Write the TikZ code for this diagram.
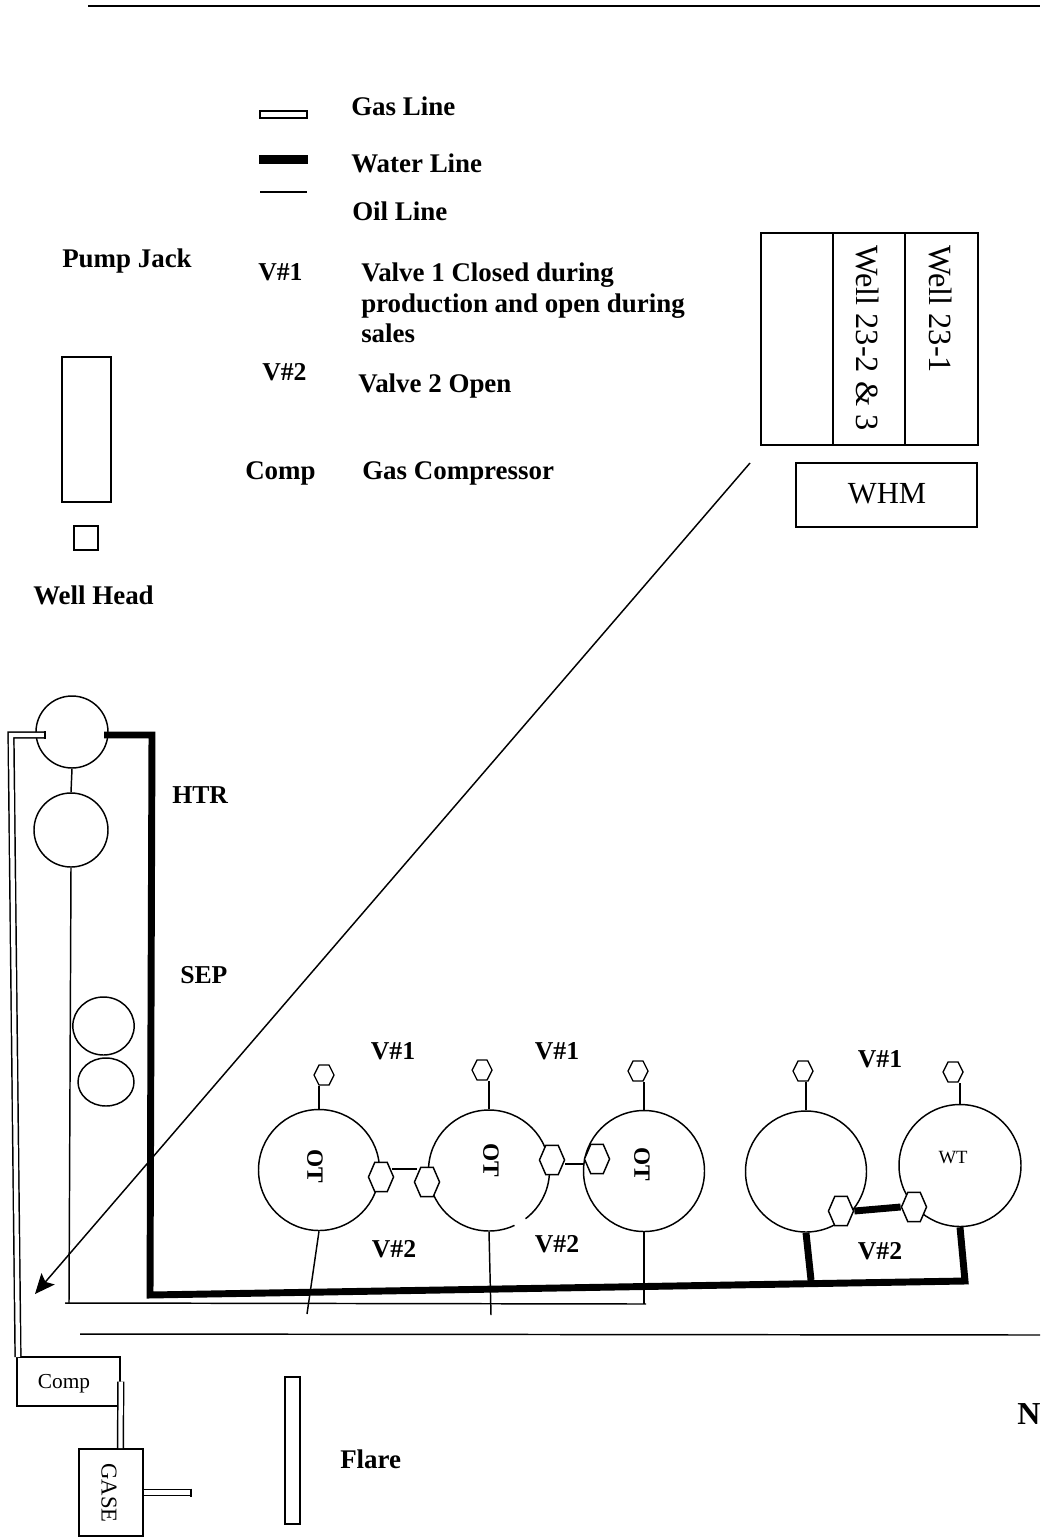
\documentclass[tikz,border=0pt]{standalone}
\usepackage{fontspec}
\setmainfont{Liberation Serif}
\usetikzlibrary{shapes.geometric,arrows.meta,calc}
\tikzset{
  pipe/.style={line width=1.1pt,black},
  oil/.style={line width=1.1pt,black},
  water/.style={line width=5.2pt,black,line cap=butt,line join=miter},
  gas/.style={line width=1.1pt,draw=black,double=white,double distance=3.2pt,line join=miter},
  lab/.style={font=\bfseries\fontsize{20.2}{23}\selectfont,inner sep=0pt,anchor=west,align=left},
  clab/.style={font=\bfseries\fontsize{19.3}{23}\selectfont,inner sep=0pt},
  box/.style={draw,line width=1.1pt,rectangle,inner sep=0pt,fill=white},
  tank/.style={draw,line width=1.1pt,circle,inner sep=0pt,fill=white,minimum size=#1*0.75pt},
  ell/.style={draw,line width=1.1pt,ellipse,inner sep=0pt},
  vsmall/.style={draw,line width=1pt,fill=white,regular polygon,regular polygon sides=6,inner sep=0pt,minimum size=15pt,yscale=1.155,transform shape},
  vbig/.style={draw,line width=1.1pt,fill=white,regular polygon,regular polygon sides=6,inner sep=0pt,minimum size=18.8pt,yscale=1.34,transform shape},
  reg/.style={inner sep=0pt,font=\fontsize{23}{27}\selectfont},
  wellt/.style={inner sep=0pt,rotate=-90,anchor=west,font=\fontsize{24.3}{27}\selectfont},
  small/.style={inner sep=0pt,font=\fontsize{16}{19}\selectfont},
  ot/.style={inner sep=0pt,rotate=-90,font=\bfseries\fontsize{17.5}{20}\selectfont},
}
\begin{document}
\begin{tikzpicture}[x=0.75pt,y=-0.75pt]
\useasboundingbox (0,0) rectangle (1040,1538);
% rules
\coordinate (topL) at (88,6); \coordinate (topR) at (1040,6);
\coordinate (midL) at (80,1334); \coordinate (midR) at (1040,1335);
\draw[oil] (topL) -- (topR);
\draw[oil] (midL) -- (midR);
% legend
\node[box,minimum width=35pt,minimum height=5pt] (legGas) at (283.5,114.5) {};
\node[box,fill=black,minimum width=35pt,minimum height=5pt] (legWater) at (283.5,159.5) {};
\coordinate (legOilL) at (260,192); \coordinate (legOilR) at (307,192);
\draw[oil] (legOilL) -- (legOilR);
\node[lab] (tGas) at (351,106) {Gas Line};
\node[lab] (tWater) at (351,163) {Water Line};
\node[lab] (tOil) at (352,211) {Oil Line};
\node[lab] (tPump) at (62,261) {Pump Jack};
\node[clab,anchor=west] (tV1) at (258,272) {V\#1};
\node[lab] (tValve1) at (361,303) {Valve 1 Closed during\\production and open during\\sales};
\node[clab,anchor=west] (tV2) at (262,372) {V\#2};
\node[lab] (tValve2) at (358,386) {Valve 2 Open};
\node[lab] (tComp) at (245,473) {Comp};
\node[lab] (tComp2) at (362,473) {Gas Compressor};
% pump jack / well head
\node[box,minimum width=36.75pt,minimum height=108.75pt] (pump) at (86.5,429.5) {};
\node[box,minimum width=18pt,minimum height=18pt] (head) at (86,538) {};
\node[lab] (tHead) at (33,595) {Well Head};
% well table
\node[box,minimum width=162.75pt,minimum height=159pt] (wells) at (869.5,339) {};
\node[box,minimum width=54pt,minimum height=159pt] (wellMid) at (869,339) {};
\node[wellt] (w2) at (867,245) {Well 23-2 \& 3};
\node[wellt] (w1) at (940,245) {Well 23-1};
\node[box,minimum width=135.75pt,minimum height=48pt] (whm) at (886.5,495) {};
\node[reg] (twhm) at (887,494) {WHM};
% left stack
\node[tank=72] (htr) at (72,732) {};
\node[tank=74] (sep) at (71,830) {};
\draw[pipe] (htr.south) -- (sep.north);
\node[clab,anchor=west] (tHtr) at (172,795) {HTR};
\node[clab,anchor=west] (tSep) at (180,975) {SEP};
\node[ell,minimum width=46pt,minimum height=43.5pt] (e1) at (103.5,1026) {};
\node[ell,minimum width=42pt,minimum height=36pt] (e2) at (106,1082) {};
% tanks
\node[tank=121] (t1) at (319,1170) {};
\node[tank=121] (t2) at (489,1170.5) {};
\node[tank=121] (t3) at (644,1171) {};
\node[tank=121] (t4) at (806,1171.5) {};
\node[tank=122] (wt) at (960,1165.5) {};
\draw[white,line width=2.5pt] (t2.center) ++(65:60.5) arc[start angle=65,end angle=53,radius=60.5];
\node[ot] (o1) at (315,1166) {OT};
\node[ot] (o2) at (491,1160) {OT};
\node[ot] (o3) at (642,1164) {OT};
\node[inner sep=0pt,font=\fontsize{14}{16}\selectfont] (twt) at (953,1158) {WT};
% valves
\node[vsmall] (v1) at (324,1075) {};
\node[vsmall] (v2) at (482,1070) {};
\node[vsmall] (v3) at (638,1071) {};
\node[vsmall] (v4) at (803,1071) {};
\node[vsmall] (v5) at (953,1072) {};
\draw[pipe] (t1.north) -- (t1.north |- v1.south);
\draw[pipe] (t2.north) -- (t2.north |- v2.south);
\draw[pipe] (t3.north) -- (t3.north |- v3.south);
\draw[pipe] (t4.north) -- (t4.north |- v4.south);
\draw[pipe] (wt.north) -- (wt.north |- v5.south);
\node[vbig] (h1) at (381,1177) {};
\node[vbig] (h2) at (427,1182) {};
\node[vbig] (h3) at (552,1160) {};
\node[vbig] (h4) at (597,1159) {};
\node[vbig] (h5) at (841,1211) {};
\node[vbig] (h6) at (914,1207) {};
\draw[pipe] ($(h1.east)+(-2,-8)$) -- ($(h2.west)+(3,-13)$);
\draw[pipe] ($(h3.east)+(0,4)$) -- ($(h4.west)+(0,5)$);
\draw[water] (h5.east) -- (h6.west);
% oil lines
\coordinate (oilL) at (65,1303);
\coordinate (oilC) at (69,1303);
\coordinate (oilR) at (646,1304);
\coordinate (s1) at (307,1314);
\coordinate (s2) at (491,1315);
\draw[pipe] (sep.south) -- (oilC);
\draw[pipe] (oilL) -- (oilR);
\draw[pipe] (t1.south) -- (s1);
\draw[pipe] (t2.south) -- (s2);
\draw[pipe] (t3.south) -- (t3.south |- oilR);
% water line
\coordinate (wS) at (104,735);
\coordinate (wA) at (152,735);
\coordinate (wB) at (150,1295);
\coordinate (wC) at (965,1281);
\coordinate (wD) at (811,1280);
\draw[water] (wS) -- (wA) -- (wB) -- (wC) -- (wt.south);
\draw[water] (t4.south) -- (wD);
% arrow
\coordinate (arrS) at (750,463);
\coordinate (arrE) at (35,1294);
\draw[pipe,-{Stealth[length=15pt,width=13pt,inset=3pt]}] (arrS) -- (arrE);
% compressor
\node[box,minimum width=77.25pt,minimum height=36.75pt] (comp) at (68.5,1381.5) {};
\node[small] (tcomp) at (64,1384) {Comp};
\node[box,minimum width=48pt,minimum height=65.25pt] (gase) at (111,1492.5) {};
\node[inner sep=0pt,rotate=-90,font=\fontsize{17}{19}\selectfont] (tgase) at (109,1493) {GASE};
% gas lines
\coordinate (gA) at (45,735);
\coordinate (gB) at (11,735);
\coordinate (gC) at (18,1357);
\draw[gas] (gA) -- (gB) -- (gC);
\coordinate (gE) at (120.5,1448);
\draw[gas] (comp.east) -- (gE);
\coordinate (gO) at (191,1492.5);
\draw[gas] (gase.east) -- (gO);
\draw[oil] ($(gO)+(0,-4)$) -- ($(gO)+(0,4)$);
\draw[oil] ($(gA)+(0,-4)$) -- ($(gA)+(0,4)$);
% flare
\node[box,minimum width=11.25pt,minimum height=110.25pt] (flare) at (292.5,1450.5) {};
\node[lab] (tFlare) at (340,1459) {Flare};
% tank labels
\node[clab] (a1) at (393,1051) {V\#1};
\node[clab] (a2) at (557,1051) {V\#1};
\node[clab] (a3) at (880,1059) {V\#1};
\node[clab] (b1) at (394,1249) {V\#2};
\node[clab] (b2) at (557,1244) {V\#2};
\node[clab] (b3) at (880,1251) {V\#2};
\node[inner sep=0pt,anchor=west,font=\bfseries\fontsize{24}{28}\selectfont] (tN) at (1017,1414) {N};
\end{tikzpicture}
\end{document}
